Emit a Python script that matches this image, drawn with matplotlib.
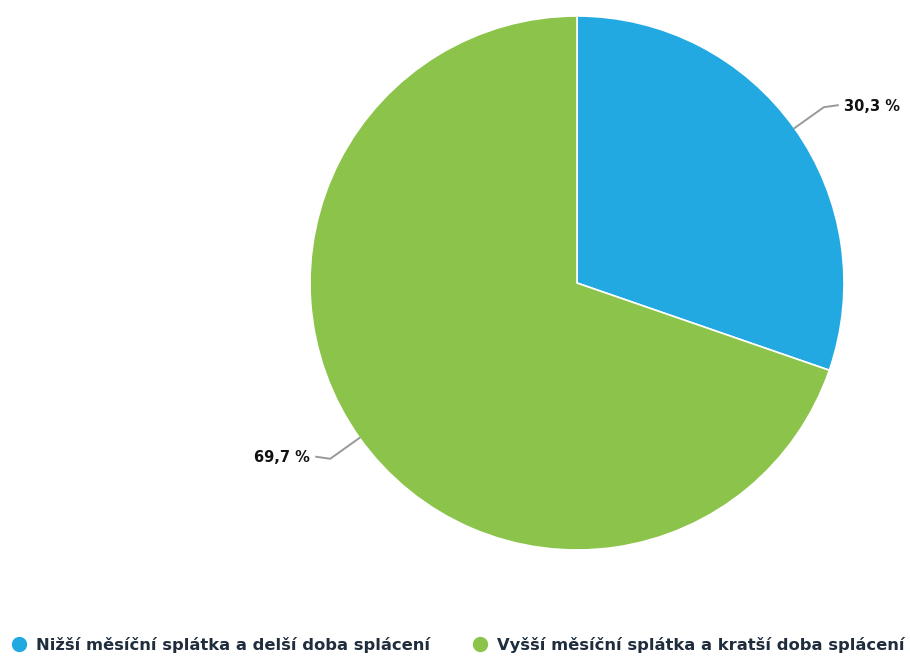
import numpy as np
import matplotlib
matplotlib.use("Agg")
import matplotlib.pyplot as plt
from matplotlib.lines import Line2D

labels = ["Nižší měsíční splátka a delší doba splácení",
          "Vyšší měsíční splátka a kratší doba splácení"]
values = [30.3, 69.7]
colors = ["#22a9e1", "#8cc44b"]

W, H = 910, 657
fig = plt.figure(figsize=(W / 100, H / 100), dpi=100)
ax = fig.add_axes([0, 0, 1, 1])

cx, cy, r = 577, H - 283, 267
wedges, _ = ax.pie(values, colors=colors, startangle=90, counterclock=False,
                   center=(cx, cy), radius=r, frame=True,
                   wedgeprops=dict(edgecolor="white", linewidth=1.2))
ax.set_xlim(0, W)
ax.set_ylim(0, H)
ax.set_aspect("equal")
ax.axis("off")

# percentage labels with short grey connectors
for w, v in zip(wedges, values):
    ang = np.deg2rad((w.theta1 + w.theta2) / 2)
    x0, y0 = cx + r * np.cos(ang), cy + r * np.sin(ang)
    side = 1 if np.cos(ang) > 0 else -1
    x1, y1 = cx + (r + 36) * np.cos(ang), cy + (r + 36) * np.sin(ang)
    x2 = x1 + side * 14
    ax.plot([x0, x1, x2], [y0, y1, y1 + 2], color="#999999", lw=1.4)
    txt = f"{v:.1f}".replace(".", ",") + " %"
    ax.text(x2 + side * 6, y1 + 1, txt, ha="left" if side > 0 else "right",
            va="center", fontsize=10.5, fontweight="bold", color="#111111")

handles = [Line2D([], [], marker="o", linestyle="none", markersize=10,
                  markerfacecolor=c, markeredgecolor=c) for c in colors]
leg = fig.legend(handles, labels, loc="center left",
                 bbox_to_anchor=(11 / W, 12 / H), ncol=2, frameon=False,
                 fontsize=11.8, handlelength=1.0, handletextpad=0.55,
                 columnspacing=2.5, borderpad=0, borderaxespad=0)
for t in leg.get_texts():
    t.set_color("#1f2d3d")
    t.set_fontweight("bold")

fig.savefig("out.png", dpi=100)
